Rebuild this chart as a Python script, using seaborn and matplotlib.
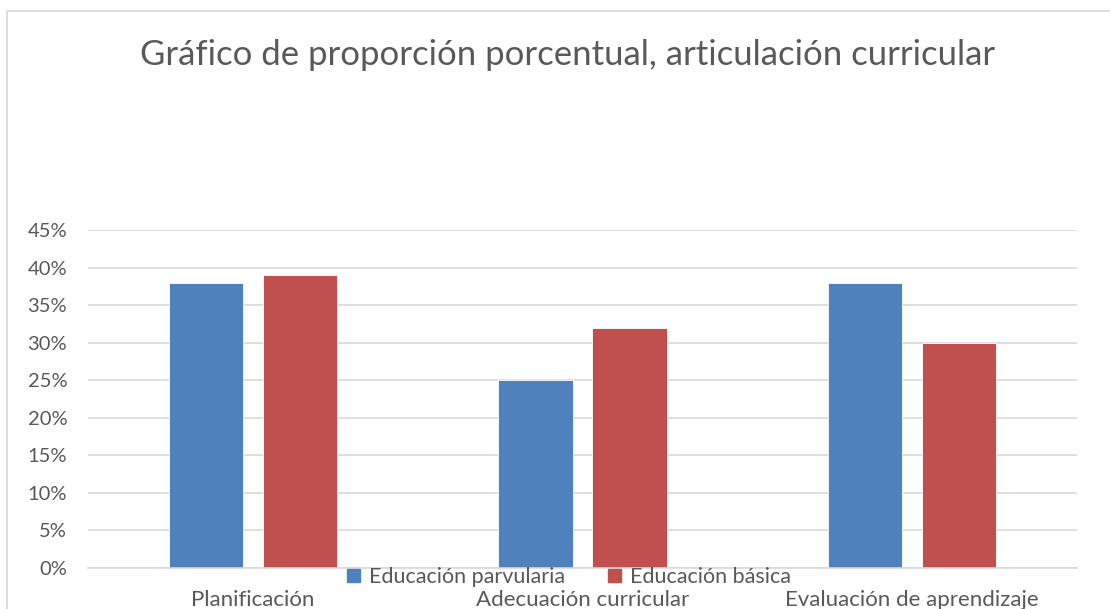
import matplotlib
matplotlib.use("Agg")
import matplotlib.pyplot as plt
import seaborn as sns
import pandas as pd
from matplotlib.patches import Rectangle
from matplotlib.ticker import FuncFormatter, MultipleLocator

categories = ["Planificación", "Adecuación curricular", "Evaluación de aprendizaje"]
series_names = ["Educación parvularia", "Educación básica"]
parvularia = [38, 25, 38]
basica = [39, 32, 30]
title = "Gráfico de proporción porcentual, articulación curricular"
colors = ["#4F81BD", "#C0504D"]

df = pd.DataFrame({
    "categoria": categories * 2,
    "serie": [series_names[0]] * 3 + [series_names[1]] * 3,
    "valor": parvularia + basica,
})

sns.set_theme(style="white")
plt.rcParams["font.family"] = ["Lato", "DejaVu Sans"]
text_color = "#595959"

W, H = 1110, 609
fig = plt.figure(figsize=(W / 100, H / 100), dpi=100)
# axes box: x 88..1077, y 230(45%)..568(0)
ax = fig.add_axes([88 / W, 1 - 568 / H, (1077 - 88) / W, (568 - 230) / H])

sns.barplot(data=df, x="categoria", y="valor", hue="serie", palette=colors,
            ax=ax, width=0.57, gap=0.21, saturation=1, legend=False,
            edgecolor="white", linewidth=0.6)

ax.set_ylim(0, 45)
ax.yaxis.set_major_locator(MultipleLocator(5))
ax.yaxis.set_major_formatter(FuncFormatter(lambda v, p: f"{int(round(v))}%"))
ax.set_xlim(-0.5, 2.5)
ax.grid(axis="y", color="#d9d9d9", linewidth=1.2)
ax.set_axisbelow(True)
for s in ["left", "right", "top"]:
    ax.spines[s].set_visible(False)
ax.spines["bottom"].set_color("#d9d9d9")
ax.spines["bottom"].set_linewidth(1.2)
ax.set_xlabel("")
ax.set_ylabel("")
ax.tick_params(axis="y", length=0, pad=15, labelsize=14.5, labelcolor=text_color)
ax.tick_params(axis="x", length=0, pad=16, labelsize=16, labelcolor=text_color)

handles = [Rectangle((0, 0), 1, 1, color=c) for c in colors]
fig.legend(handles, series_names, loc="center", ncol=2,
           bbox_to_anchor=(569 / W, 1 - 577 / H), frameon=False,
           fontsize=15.5, labelcolor=text_color, handlelength=0.6, handleheight=0.6,
           handletextpad=0.4, columnspacing=2.0, borderpad=0)

fig.text(568 / W, 1 - 55 / H, title, ha="center", va="center",
         fontsize=25, color=text_color)

fig.patches.append(Rectangle((7 / W, -0.1), 1.2, 1 - 11 / H + 0.1,
                             transform=fig.transFigure, fill=False,
                             edgecolor="#d9d9d9", linewidth=1.2, zorder=0))

fig.savefig("out.png", dpi=100)
